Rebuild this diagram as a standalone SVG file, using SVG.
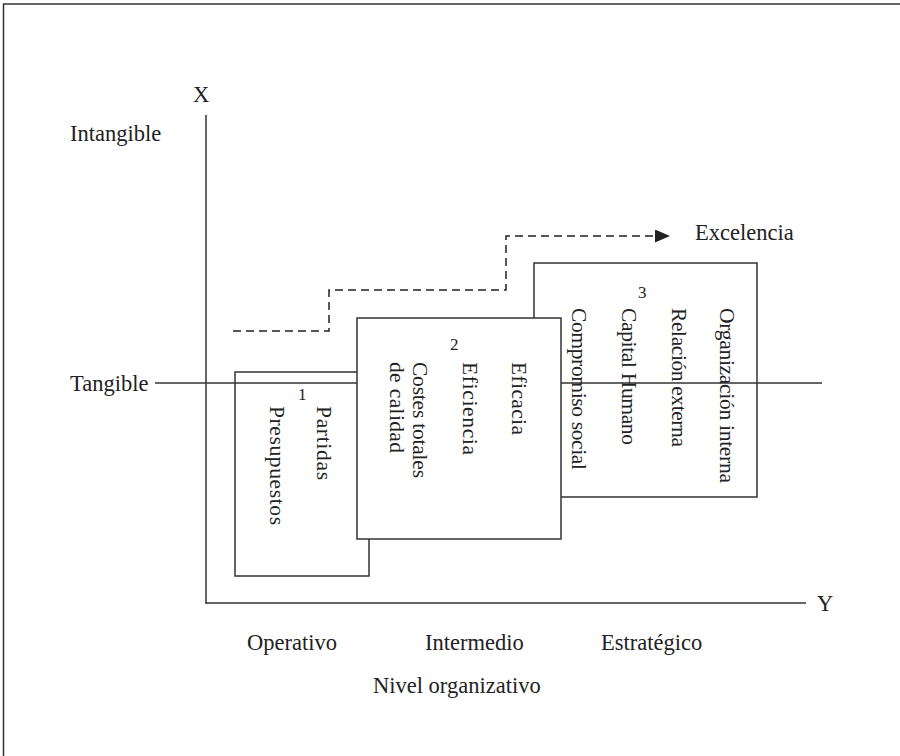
<svg xmlns="http://www.w3.org/2000/svg" width="900" height="756" viewBox="0 0 900 756">
<style>
text{font-family:"Liberation Serif","Times New Roman",serif;font-size:22.5px;fill:#222}
.rot{font-size:21.5px}
.num{font-size:17px}
.box{fill:#fff;stroke:#333;stroke-width:1.5}
.ln{stroke:#333;stroke-width:1.5;fill:none}
.dash{stroke:#222;stroke-width:1.5;fill:none;stroke-dasharray:8,5}
</style>
<defs>
<marker id="arr" markerWidth="15" markerHeight="13" refX="14" refY="6.5" orient="auto" markerUnits="userSpaceOnUse">
<path d="M0,0 L15,6.5 L0,13 Z" fill="#222"/>
</marker>
</defs>
<rect width="900" height="756" fill="#fff"/>
<path class="ln" d="M3.5,756 V4 H900"/>
<g id="axes">
<line class="ln" x1="206" y1="115" x2="206" y2="604"/>
<line class="ln" x1="206" y1="603" x2="806" y2="603"/>
<text x="193" y="102">X</text>
<text x="817" y="611">Y</text>
<text x="70" y="141">Intangible</text>
<text x="70" y="391">Tangible</text>
<text x="247" y="650">Operativo</text>
<text x="425" y="650">Intermedio</text>
<text x="601" y="650">Estratégico</text>
<text x="373" y="693">Nivel organizativo</text>
</g>
<g id="box1">
<rect class="box" x="235" y="372" width="134" height="204"/>
<text class="num" x="298" y="400">1</text>
<text class="rot" transform="translate(317,406) rotate(90)" textLength="74">Partidas</text>
<text class="rot" transform="translate(270,406) rotate(90)" textLength="119">Presupuestos</text>
</g>
<g id="box3">
<rect class="box" x="534" y="263" width="223" height="234"/>
<text class="num" x="638" y="298">3</text>
<text class="rot" transform="translate(720,308) rotate(90)" textLength="175">Organización interna</text>
<text class="rot" transform="translate(672,308) rotate(90)" textLength="139">Relación externa</text>
<text class="rot" transform="translate(622,308) rotate(90)" textLength="137">Capital Humano</text>
<text class="rot" transform="translate(572,308) rotate(90)" textLength="162">Compromiso social</text>
</g>
<g id="connectors">
<line class="ln" x1="155" y1="383" x2="822" y2="383"/>
<path class="dash" d="M233,331 H329 V290 H506 V236 H669" marker-end="url(#arr)"/>
<text x="695" y="240">Excelencia</text>
</g>
<g id="box2">
<rect class="box" x="357" y="318" width="204" height="221"/>
<text class="num" x="450" y="350">2</text>
<text class="rot" transform="translate(512,362) rotate(90)" textLength="73">Eficacia</text>
<text class="rot" transform="translate(463,362) rotate(90)" textLength="93">Eficiencia</text>
<text class="rot" transform="translate(413,362) rotate(90)" textLength="116">Costes totales</text>
<text class="rot" transform="translate(390,362) rotate(90)" textLength="91">de calidad</text>
</g>
</svg>
